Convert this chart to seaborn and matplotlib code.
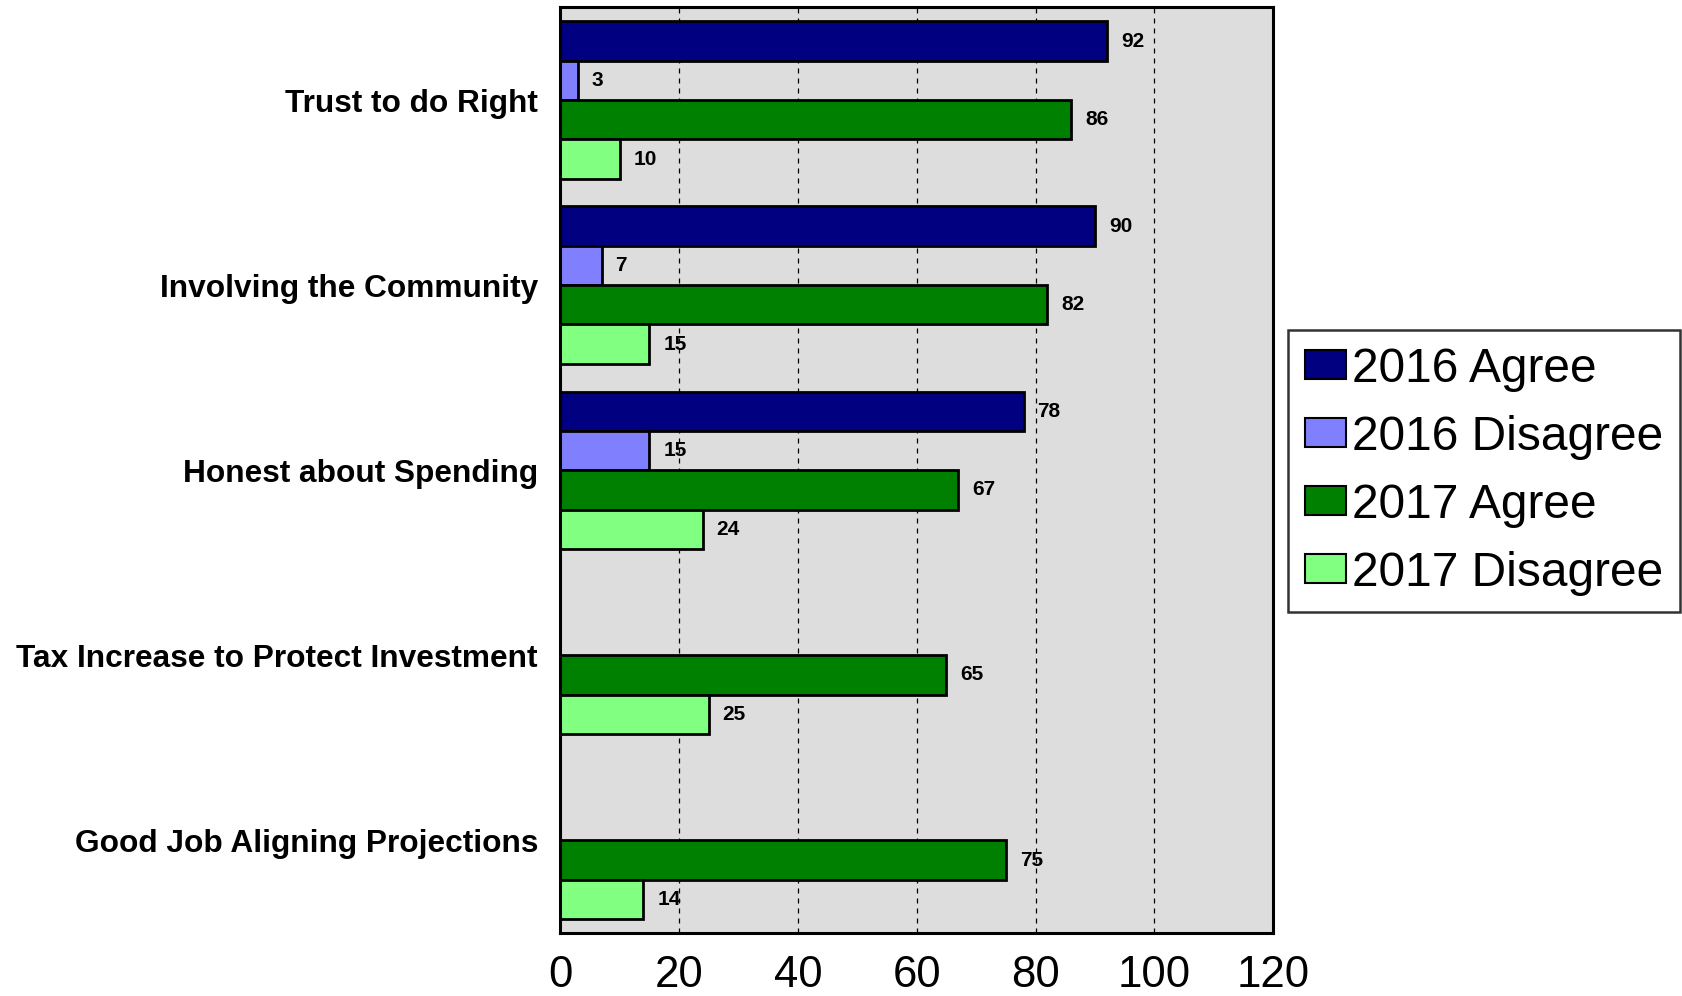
import numpy as np
import pandas as pd
import matplotlib
matplotlib.use("Agg")
import matplotlib.pyplot as plt
import seaborn as sns

# Chart data
categories = ["Trust to do Right", "Involving the Community", "Honest about Spending",
              "Tax Increase to Protect Investment", "Good Job Aligning Projections"]
series = ["2016 Agree", "2016 Disagree", "2017 Agree", "2017 Disagree"]
agree_2016 = [92, 90, 78, np.nan, np.nan]
disagree_2016 = [3, 7, 15, np.nan, np.nan]
agree_2017 = [86, 82, 67, 65, 75]
disagree_2017 = [10, 15, 24, 25, 14]
x_ticks = [0, 20, 40, 60, 80, 100, 120]
colors = ["#000080", "#8080FF", "#008000", "#80FF80"]

# Long format for seaborn
rows = []
for name, vals in zip(series, [agree_2016, disagree_2016, agree_2017, disagree_2017]):
    for cat, v in zip(categories, vals):
        rows.append({"Category": cat, "Series": name, "Value": v})
df = pd.DataFrame(rows)

sns.set_theme(style="white")
plt.rcParams["font.family"] = ["Liberation Sans", "DejaVu Sans"]
plt.rcParams["text.color"] = "black"
plt.rcParams["xtick.color"] = "black"
plt.rcParams["ytick.color"] = "black"

fig = plt.figure(figsize=(16.82, 9.96), dpi=100)
ax = fig.add_axes([0.333, 0.0633, 0.424, 0.9292])
ax.set_facecolor("#DDDDDD")

sns.barplot(data=df, y="Category", x="Value", hue="Series", order=categories,
            hue_order=series, palette=colors, saturation=1, orient="h", width=0.85,
            errorbar=None, edgecolor="black", linewidth=2, ax=ax)

# Value labels
for cont in ax.containers:
    labels = [f"{w:.0f}" if np.isfinite(w) and w > 0 else "" for w in cont.datavalues]
    ax.bar_label(cont, labels=labels, padding=10, fontsize=15, fontweight="bold", color="black")

ax.set_xlim(0, 120)
ax.set_ylim(4.5, -0.5)
ax.set_xticks(x_ticks)
ax.set_xticklabels([str(t) for t in x_ticks], fontsize=31.5)
ax.set_yticks(range(len(categories)))
ax.set_yticklabels(categories, fontsize=22.8, fontweight="bold")
ax.tick_params(axis="both", length=0)
ax.tick_params(axis="x", pad=16)
ax.tick_params(axis="y", pad=16)
ax.set_xlabel("")
ax.set_ylabel("")

ax.xaxis.grid(True, linestyle=(0, (4, 4)), color="black", linewidth=0.9)
ax.yaxis.grid(False)
ax.set_axisbelow(True)
for sp in ax.spines.values():
    sp.set_visible(True)
    sp.set_color("black")
    sp.set_linewidth(2.2)

ax.get_legend().remove()
handles = [plt.Rectangle((0, 0), 1, 1, facecolor=c, edgecolor="black", linewidth=1.5) for c in colors]
leg = fig.legend(handles, series, loc="center left", bbox_to_anchor=(0.766, 0.527),
                 fontsize=34.5, frameon=True, fancybox=False, edgecolor="black",
                 handlelength=0.85, handleheight=0.55, handletextpad=0.12,
                 labelspacing=0.48, borderpad=0.35, borderaxespad=0)
leg.get_frame().set_linewidth(1.8)

fig.savefig("out.png", dpi=100)
